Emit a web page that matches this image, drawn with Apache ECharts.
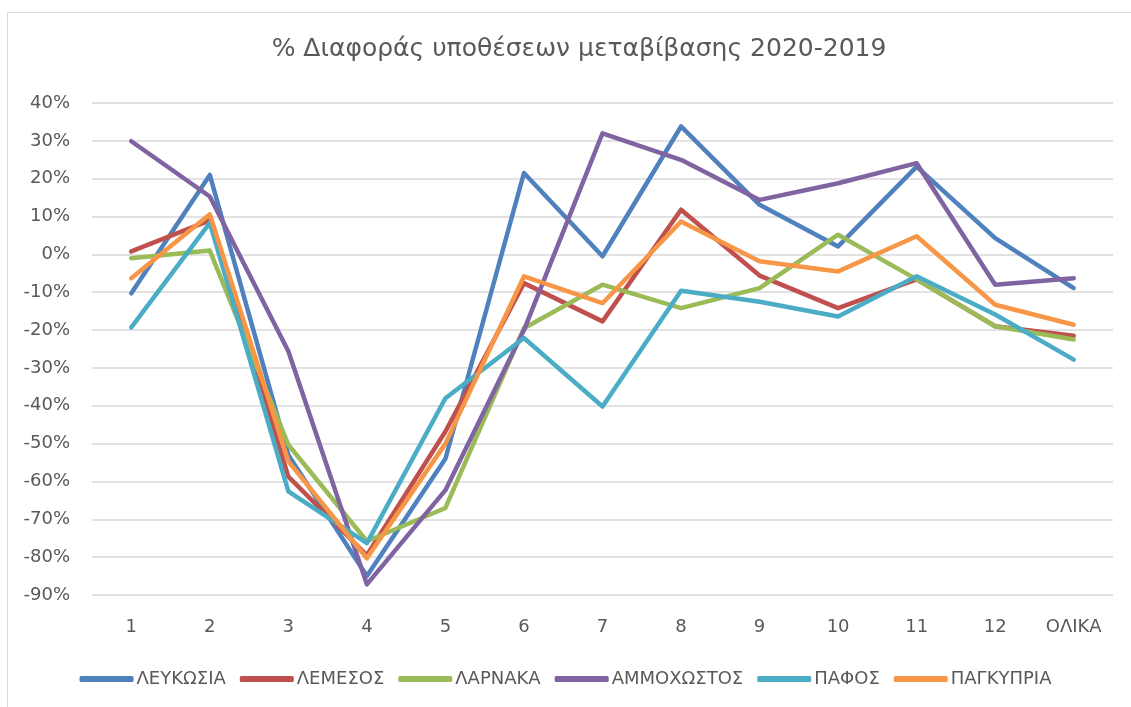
<!DOCTYPE html>
<html><head><meta charset="utf-8">
<script src="https://cdn.jsdelivr.net/npm/echarts@6/dist/echarts.min.js"></script>
<style>
html,body{margin:0;padding:0;background:#fff;}
#frame{position:absolute;left:7px;top:12px;width:1200px;height:800px;border:1px solid #d9d9d9;box-sizing:border-box;}
#c{position:absolute;left:0;top:0;width:1131px;height:707px;}
</style></head>
<body>
<div id="frame"></div>
<div id="c"></div>
<script>
const categories = ['1','2','3','4','5','6','7','8','9','10','11','12','ΟΛΙΚΑ'];
const seriesNames = ['ΛΕΥΚΩΣΙΑ','ΛΕΜΕΣΟΣ','ΛΑΡΝΑΚΑ','ΑΜΜΟΧΩΣΤΟΣ','ΠΑΦΟΣ','ΠΑΓΚΥΠΡΙΑ'];
const lefkosia   = [-10.3, 21.0, -53.0, -85.0, -54.0, 21.5, -0.5, 33.8, 13.1, 2.1, 23.2, 4.3, -8.9];
const lemesos    = [0.8, 9.0, -58.7, -79.5, -46.8, -7.6, -17.7, 11.8, -5.6, -14.2, -6.6, -19.0, -21.5];
const larnaka    = [-1.0, 1.0, -50.3, -75.8, -67.0, -19.5, -8.0, -14.2, -8.9, 5.2, -6.6, -19.0, -22.5];
const ammochostos= [29.9, 15.3, -25.6, -87.2, -62.3, -20.0, 32.0, 25.0, 14.4, 18.8, 24.1, -8.0, -6.3];
const pafos      = [-19.3, 8.3, -62.6, -76.3, -38.0, -22.1, -40.2, -9.6, -12.5, -16.4, -5.8, -15.9, -27.8];
const pagkypria  = [-6.3, 10.6, -54.7, -80.3, -50.0, -5.8, -12.9, 8.7, -1.8, -4.5, 4.8, -13.3, -18.6];
const yTicks = {min: -90, max: 40, interval: 10};

const values = [lefkosia, lemesos, larnaka, ammochostos, pafos, pagkypria];
const colors = ['#4F81BD','#C0504D','#9BBB59','#8064A2','#4BACC6','#F79646'];
const font = "'DejaVu Sans','Liberation Sans',sans-serif";

const chart = echarts.init(document.getElementById('c'), null, {renderer:'canvas'});
chart.setOption({
  animation: false,
  color: colors,
  textStyle: {fontFamily: font},
  title: {
    text: '% Διαφοράς υποθέσεων μεταβίβασης 2020-2019',
    left: 574, top: 32, textAlign: 'center',
    textStyle: {fontFamily: font, fontSize: 25, fontWeight: 'normal', color: '#595959'}
  },
  grid: {left: 92, right: 18, top: 103, bottom: 112, containLabel: false},
  xAxis: {
    type: 'category', data: categories, boundaryGap: true,
    axisLine: {show: false}, axisTick: {show: false},
    axisLabel: {color: '#595959', fontSize: 18, margin: 23, fontFamily: font}
  },
  yAxis: {
    type: 'value', min: yTicks.min, max: yTicks.max, interval: yTicks.interval,
    axisLine: {show: false}, axisTick: {show: false},
    axisLabel: {color: '#595959', fontSize: 18, margin: 22, formatter: '{value}%', fontFamily: font},
    splitLine: {lineStyle: {color: '#d9d9d9', width: 1.5}}
  },
  legend: {
    bottom: 14, left: 'center',
    itemWidth: 54, itemHeight: 6, itemGap: 14,
    icon: 'roundRect',
    textStyle: {color: '#595959', fontSize: 18, fontFamily: font, padding: [0,0,0,-2]},
    data: seriesNames
  },
  series: seriesNames.map((n, i) => ({
    name: n, type: 'line', data: values[i],
    showSymbol: false, symbol: 'none',
    lineStyle: {width: 4.5, color: colors[i], cap: 'round', join: 'round'},
    itemStyle: {color: colors[i]}
  }))
});
</script>
</body></html>
